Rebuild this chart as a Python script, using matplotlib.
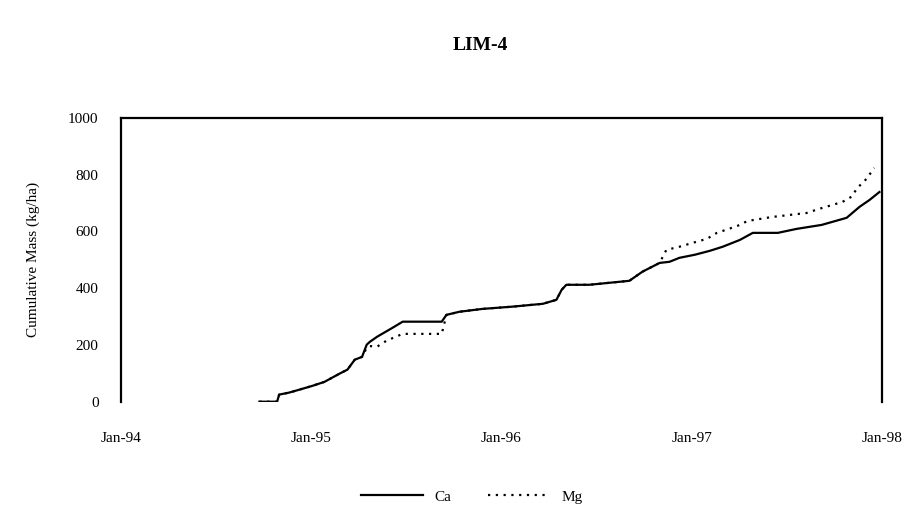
import numpy as np
import pandas as pd
import matplotlib
matplotlib.use('Agg')
import matplotlib.pyplot as plt

# cumulative Ca and Mg at LIM-4
ca_dates = ['1994-09-24', '1994-10-28', '1994-11-01', '1994-11-20', '1994-12-09',
            '1995-01-04', '1995-01-27', '1995-02-25', '1995-03-12', '1995-03-26',
            '1995-04-09', '1995-04-18', '1995-04-24', '1995-05-08', '1995-06-07',
            '1995-06-26', '1995-09-09', '1995-09-18', '1995-10-13', '1995-11-26',
            '1996-01-23', '1996-03-21', '1996-04-16', '1996-04-26', '1996-05-05',
            '1996-06-18', '1996-09-03', '1996-09-28', '1996-10-31', '1996-11-19',
            '1996-12-08', '1997-01-07', '1997-02-05', '1997-03-01', '1997-04-03',
            '1997-04-28', '1997-06-15', '1997-07-21', '1997-09-07', '1997-10-25',
            '1997-11-19', '1997-12-08', '1997-12-27']
ca_vals = [0, 0, 25, 32, 42, 56, 70, 99, 113, 148, 158, 201, 211, 229, 261,
           282, 282, 306, 317, 327, 335, 345, 359, 394, 412, 412, 426, 458, 489,
           493, 507, 518, 532, 546, 570, 595, 595, 609, 623, 648, 687, 711, 739]

mg_dates = ['1994-09-24', '1994-10-28', '1994-11-01', '1994-11-20', '1994-12-09',
            '1995-01-04', '1995-01-27', '1995-02-25', '1995-03-12', '1995-03-26',
            '1995-04-09', '1995-04-18', '1995-04-24', '1995-05-08', '1995-05-26',
            '1995-06-26', '1995-09-09', '1995-09-18', '1995-10-13', '1995-11-26',
            '1996-01-23', '1996-03-21', '1996-04-16', '1996-04-26', '1996-05-05',
            '1996-06-18', '1996-09-03', '1996-09-28', '1996-10-31', '1996-11-13',
            '1996-12-08', '1997-01-03', '1997-01-30', '1997-02-18', '1997-03-08',
            '1997-03-30', '1997-04-18', '1997-06-04', '1997-08-09', '1997-09-03',
            '1997-10-17', '1997-11-03', '1997-11-15', '1997-12-02', '1997-12-17']
mg_vals = [0, 0, 25, 32, 42, 56, 70, 99, 113, 148, 158, 190, 196, 194, 215,
           239, 239, 306, 317, 327, 335, 345, 359, 394, 412, 412, 426, 458, 489,
           535, 546, 560, 574, 595, 606, 620, 637, 651, 665, 680, 704, 722, 754,
           785, 824]

x_ticks = ['1994-01-01', '1995-01-01', '1996-01-01', '1997-01-01', '1998-01-01']
x_labels = ['Jan-94', 'Jan-95', 'Jan-96', 'Jan-97', 'Jan-98']
y_ticks = [0, 200, 400, 600, 800, 1000]

plt.rcParams['font.family'] = ['Liberation Serif', 'DejaVu Serif']

fig = plt.figure(figsize=(9.15, 5.15), dpi=100)
ax = fig.add_axes([0.132, 0.22, 0.832, 0.551])

ax.plot(pd.to_datetime(ca_dates), ca_vals, color='black', lw=1.6, label='Ca')
ax.plot(pd.to_datetime(mg_dates), mg_vals, color='black', lw=1.6,
        linestyle=(0, (1, 2.5)), label='Mg')

ax.set_xlim(pd.Timestamp(x_ticks[0]), pd.Timestamp(x_ticks[-1]))
ax.set_ylim(0, 1000)
ax.set_xticks(pd.to_datetime(x_ticks))
ax.set_xticklabels(x_labels)
ax.set_yticks(y_ticks)
ax.tick_params(axis='x', length=0, pad=22, labelsize=11)
ax.tick_params(axis='y', length=0, pad=16, labelsize=11)

for side in ['top', 'left', 'right']:
    ax.spines[side].set_linewidth(1.6)
ax.spines['bottom'].set_visible(False)

ax.set_ylabel('Cumulative Mass (kg/ha)', fontsize=11, labelpad=20)
fig.text(0.525, 0.912, 'LIM-4', ha='center', va='center',
         fontsize=14, fontweight='bold')

fig.legend(loc='center', bbox_to_anchor=(0.516, 0.035), ncol=2, frameon=False,
           fontsize=11, handlelength=4, columnspacing=2.4)

fig.savefig('out.png', dpi=100)
